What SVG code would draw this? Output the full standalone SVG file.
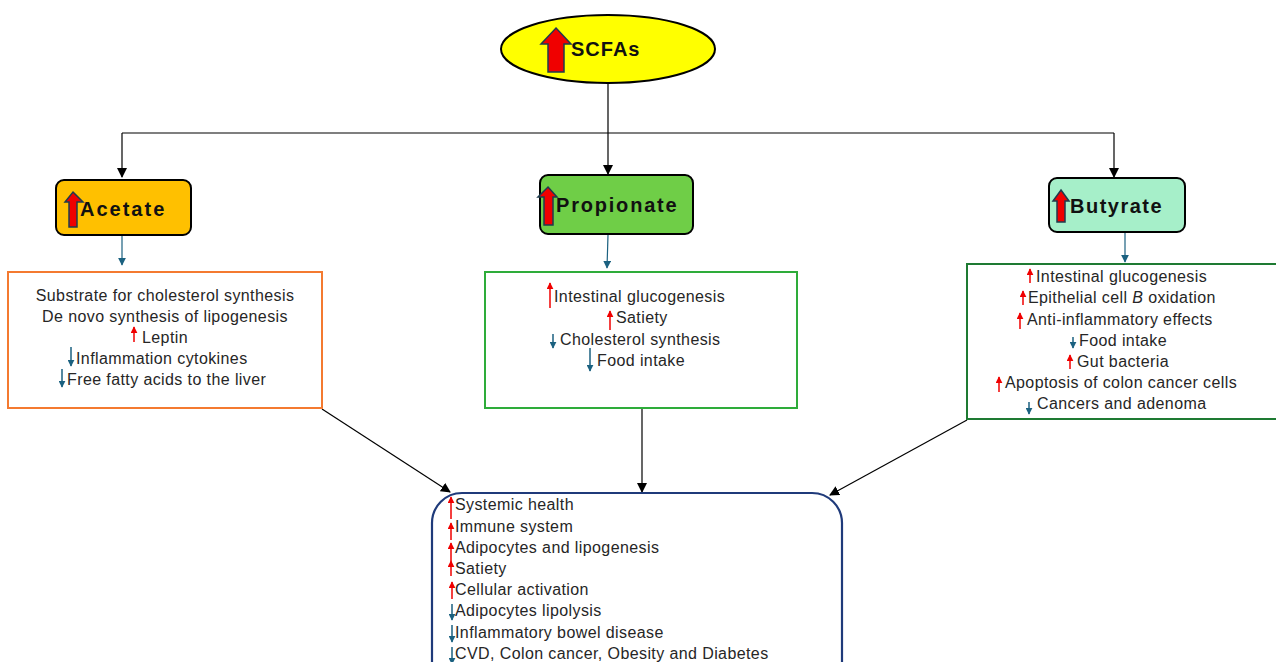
<svg xmlns="http://www.w3.org/2000/svg" width="1276" height="662" viewBox="0 0 1276 662">
<defs>
<style>
.t{font-family:"Liberation Sans",Arial,sans-serif;font-size:16px;letter-spacing:0.4px;fill:#262626}
.h{font-family:"Liberation Sans",Arial,sans-serif;font-size:20px;font-weight:bold;fill:#111}
.c{fill:none;stroke:#000;stroke-width:1.2}
.big{fill:#f00000;stroke:#1f3b4d;stroke-width:1.5}
.ar{fill:none;stroke:#f00000;stroke-width:1.5}
.ab{fill:none;stroke:#1b6180;stroke-width:1.5}
</style>
<marker id="mk" viewBox="0 0 10 10" refX="9" refY="5" markerWidth="10" markerHeight="10" markerUnits="userSpaceOnUse" orient="auto"><path d="M0,0L10,5L0,10z" fill="#000"/></marker>
<marker id="mt" viewBox="0 0 10 10" refX="9" refY="5" markerWidth="8" markerHeight="8" markerUnits="userSpaceOnUse" orient="auto"><path d="M0,0L10,5L0,10z" fill="#1b6180"/></marker>
<marker id="mr" viewBox="0 0 10 10" refX="9" refY="5" markerWidth="7" markerHeight="7" markerUnits="userSpaceOnUse" orient="auto"><path d="M0,0L10,5L0,10z" fill="#f00000"/></marker>
<marker id="mb" viewBox="0 0 10 10" refX="9" refY="5" markerWidth="7" markerHeight="7" markerUnits="userSpaceOnUse" orient="auto"><path d="M0,0L10,5L0,10z" fill="#1b6180"/></marker>
</defs>
<rect width="1276" height="662" fill="#fff"/>

<g id="connectors">
<path class="c" d="M608,83V133M122,133H1114"/>
<path class="c" d="M122,133V177" marker-end="url(#mk)"/>
<path class="c" d="M608,133V174" marker-end="url(#mk)"/>
<path class="c" d="M1114,133V177" marker-end="url(#mk)"/>
<path d="M122,236V265" stroke="#1b6180" stroke-width="1.2" marker-end="url(#mt)"/>
<path d="M608,235L607,268" stroke="#1b6180" stroke-width="1.2" marker-end="url(#mt)"/>
<path d="M1125,233V262" stroke="#1b6180" stroke-width="1.2" marker-end="url(#mt)"/>
<path class="c" d="M322,409L450,492" marker-end="url(#mk)"/>
<path class="c" d="M642,409V492" marker-end="url(#mk)"/>
<path class="c" d="M967,420L830,495" marker-end="url(#mk)"/>
</g>

<g id="scfas">
<ellipse cx="608" cy="49" rx="107" ry="34" fill="#ffff00" stroke="#000" stroke-width="2"/>
<polygon class="big" points="556,28 571,44 564,44 564,72 548,72 548,44 541,44"/>
<text class="h" x="571" y="56" letter-spacing="1">SCFAs</text>
</g>

<g id="acetate">
<rect x="56" y="180" width="135" height="55" rx="8" fill="#ffc000" stroke="#000" stroke-width="2"/>
<polygon class="big" points="73,192 83,202 77,202 77,227 69,227 69,202 65,202"/>
<text class="h" x="80" y="216" letter-spacing="2">Acetate</text>
</g>

<g id="propionate">
<rect x="540" y="175" width="153" height="59" rx="8" fill="#6fce47" stroke="#000" stroke-width="2"/>
<polygon class="big" points="548,187 557,197 553,197 553,225 544,225 544,197 538,197"/>
<text class="h" x="556" y="212" letter-spacing="1.8">Propionate</text>
</g>

<g id="butyrate">
<rect x="1049" y="178" width="136" height="54" rx="8" fill="#a6efc9" stroke="#000" stroke-width="2"/>
<polygon class="big" points="1061,190 1069,201 1065,201 1065,222 1057,222 1057,201 1053,201"/>
<text class="h" x="1070" y="213" letter-spacing="1.5">Butyrate</text>
</g>

<g id="acetate-effects">
<rect x="8" y="272" width="314" height="136" fill="#fff" stroke="#f47a30" stroke-width="2"/>
<text class="t" x="165" y="301" text-anchor="middle">Substrate for cholesterol synthesis</text>
<text class="t" x="165" y="322" text-anchor="middle">De novo synthesis of lipogenesis</text>
<path class="ar" d="M134,342V327" marker-end="url(#mr)"/>
<text class="t" x="142" y="343">Leptin</text>
<path class="ab" d="M71,347V366" marker-end="url(#mb)"/>
<text class="t" x="76" y="364">Inflammation cytokines</text>
<path class="ab" d="M62,369V387" marker-end="url(#mb)"/>
<text class="t" x="67" y="385">Free fatty acids to the liver</text>
</g>

<g id="propionate-effects">
<rect x="485" y="272" width="312" height="136" fill="#fff" stroke="#2eac3a" stroke-width="2"/>
<path class="ar" d="M550,308V283" marker-end="url(#mr)"/>
<text class="t" x="554" y="302">Intestinal glucogenesis</text>
<path class="ar" d="M610,330V311" marker-end="url(#mr)"/>
<text class="t" x="616" y="323">Satiety</text>
<path class="ab" d="M553,334V348" marker-end="url(#mb)"/>
<text class="t" x="560" y="345">Cholesterol synthesis</text>
<path class="ab" d="M590,348V371" marker-end="url(#mb)"/>
<text class="t" x="597" y="366">Food intake</text>
</g>

<g id="butyrate-effects">
<rect x="967" y="264" width="315" height="155" fill="#fff" stroke="#1e7a32" stroke-width="2"/>
<path class="ar" d="M1030,283V269" marker-end="url(#mr)"/>
<text class="t" x="1036" y="282">Intestinal glucogenesis</text>
<path class="ar" d="M1023,305V291" marker-end="url(#mr)"/>
<text class="t" x="1028" y="303">Epithelial cell <tspan font-style="italic">B</tspan> oxidation</text>
<path class="ar" d="M1020,329V313" marker-end="url(#mr)"/>
<text class="t" x="1027" y="325">Anti-inflammatory effects</text>
<path class="ab" d="M1073,337V348" marker-end="url(#mb)"/>
<text class="t" x="1079" y="346">Food intake</text>
<path class="ar" d="M1070,369V355" marker-end="url(#mr)"/>
<text class="t" x="1077" y="367">Gut bacteria</text>
<path class="ar" d="M999,392V377" marker-end="url(#mr)"/>
<text class="t" x="1005" y="388">Apoptosis of colon cancer cells</text>
<path class="ab" d="M1029,402V414" marker-end="url(#mb)"/>
<text class="t" x="1037" y="409">Cancers and adenoma</text>
</g>

<g id="outcomes">
<rect x="432" y="493" width="410" height="200" rx="30" fill="#fff" stroke="#1f3a7a" stroke-width="2.2"/>
<path class="ar" d="M451,519V497" marker-end="url(#mr)"/>
<text class="t" x="455" y="510">Systemic health</text>
<path class="ar" d="M451,540V523" marker-end="url(#mr)"/>
<text class="t" x="455" y="532">Immune system</text>
<path class="ar" d="M451,561V543" marker-end="url(#mr)"/>
<text class="t" x="455" y="553">Adipocytes and lipogenesis</text>
<path class="ar" d="M451,576V561" marker-end="url(#mr)"/>
<text class="t" x="455" y="574">Satiety</text>
<path class="ar" d="M452,599V582" marker-end="url(#mr)"/>
<text class="t" x="455" y="595">Cellular activation</text>
<path class="ab" d="M452,604V620" marker-end="url(#mb)"/>
<text class="t" x="455" y="616">Adipocytes lipolysis</text>
<path class="ab" d="M452,625V642" marker-end="url(#mb)"/>
<text class="t" x="455" y="638">Inflammatory bowel disease</text>
<path class="ab" d="M452,647V664" marker-end="url(#mb)"/>
<text class="t" x="455" y="659">CVD, Colon cancer, Obesity and Diabetes</text>
</g>
</svg>
